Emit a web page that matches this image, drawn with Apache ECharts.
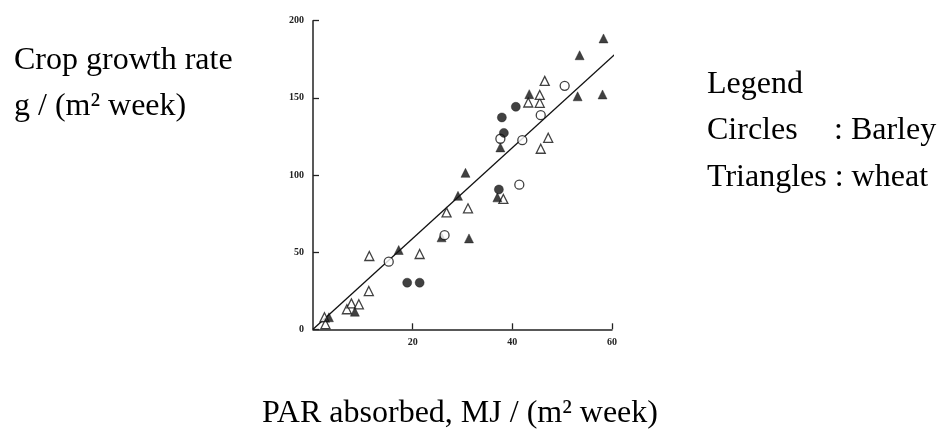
<!DOCTYPE html>
<html>
<head>
<meta charset="utf-8">
<script src="https://cdn.jsdelivr.net/npm/echarts@6/dist/echarts.min.js"></script>
<style>
html,body{margin:0;padding:0;background:#fff;}
#chart{width:941px;height:430px;}
</style>
</head>
<body>
<div id="chart"></div>
<script>
// Data: [PAR absorbed, crop growth rate]
const barleyOpen = [[15.2,43.8],[26.4,61],[37.6,123.5],[42,122.6],[41.4,93.7],[45.7,138.8],[50.5,157.8]];
const barleyFilled = [[18.9,30.2],[21.4,30.2],[37.3,90.6],[38.3,127.3],[37.9,137.3],[40.7,144.2]];
const wheatOpen = [[2.3,7.8],[2.5,3.4],[6.8,13],[7.7,16.8],[9.2,16.2],[11.2,24.8],[11.3,47.5],[21.4,48.8],[26.8,75.8],[31.1,78.4],[38.2,84.5],[43.2,147],[45.5,146.8],[45.5,151.9],[46.5,161],[47.2,124.1],[45.7,117]];
const wheatFilled = [[3.2,7.8],[8.4,11.4],[17.2,51.4],[25.8,59.6],[29.1,86.5],[30.6,101.4],[31.3,58.9],[37,85.5],[37.6,117.9],[43.4,152.4],[53.1,151],[53.5,177.6],[58.1,152.2],[58.3,188.5]];
const fitLine = [[0,0],[63.4,186.5]];
const xTicks = {min:0, max:60, interval:20};
const yTicks = {min:0, max:200, interval:50};
const yTitleLines = ['Crop growth rate', 'g / (m² week)'];
const xTitle = 'PAR absorbed, MJ / (m² week)';
const legendLines = ['Legend', 'Circles', ': Barley', 'Triangles : wheat'];

const serif = '"Liberation Serif", "Times New Roman", serif';
const chart = echarts.init(document.getElementById('chart'), null, {renderer:'canvas'});
const axisLabelStyle = {fontFamily: serif, fontSize: 10, fontWeight: 'bold', color: '#222'};
const openStyle = {color:'#fff', borderColor:'#111', borderWidth:1.3};
const filledStyle = {color:'#111', borderColor:'#111', borderWidth:0.5};
function txt(text, x, y){
  return {type:'text', x:x, y:y, style:{text:text, font:'32px ' + serif, fill:'#000', verticalAlign:'middle'}};
}
chart.setOption({
  animation:false,
  backgroundColor:'#fff',
  grid:{left:313, right:329, top:20.7, bottom:100.7, containLabel:false},
  xAxis:{
    type:'value', min:xTicks.min, max:xTicks.max, interval:xTicks.interval,
    axisLine:{show:true, onZero:false, lineStyle:{color:'#222', width:1.5}},
    axisTick:{show:true, inside:true, length:6, lineStyle:{color:'#222', width:1.3}},
    axisLabel:Object.assign({margin:8, showMinLabel:false}, axisLabelStyle),
    splitLine:{show:false}
  },
  yAxis:{
    type:'value', min:yTicks.min, max:yTicks.max, interval:yTicks.interval,
    axisLine:{show:true, onZero:false, lineStyle:{color:'#222', width:1.5}},
    axisTick:{show:true, inside:true, length:6, lineStyle:{color:'#222', width:1.3}},
    axisLabel:Object.assign({margin:9}, axisLabelStyle),
    splitLine:{show:false}
  },
  series:[
    {type:'line', data:fitLine, symbol:'none', clip:false, lineStyle:{color:'#111', width:1.3}, z:1},
    {type:'scatter', data:wheatOpen, symbol:'triangle', symbolSize:9, itemStyle:openStyle, z:3},
    {type:'scatter', data:wheatFilled, symbol:'triangle', symbolSize:9, itemStyle:filledStyle, z:3},
    {type:'scatter', data:barleyOpen, symbol:'circle', symbolSize:9, itemStyle:openStyle, z:3},
    {type:'scatter', data:barleyFilled, symbol:'circle', symbolSize:9, itemStyle:filledStyle, z:3}
  ],
  graphic:[
    txt(yTitleLines[0], 14, 61),
    txt(yTitleLines[1], 14, 107),
    txt(legendLines[0], 707, 84.5),
    txt(legendLines[1], 707, 131),
    txt(legendLines[2], 834, 131),
    txt(legendLines[3], 707, 177.5),
    txt(xTitle, 262, 414)
  ]
});
</script>
</body>
</html>
